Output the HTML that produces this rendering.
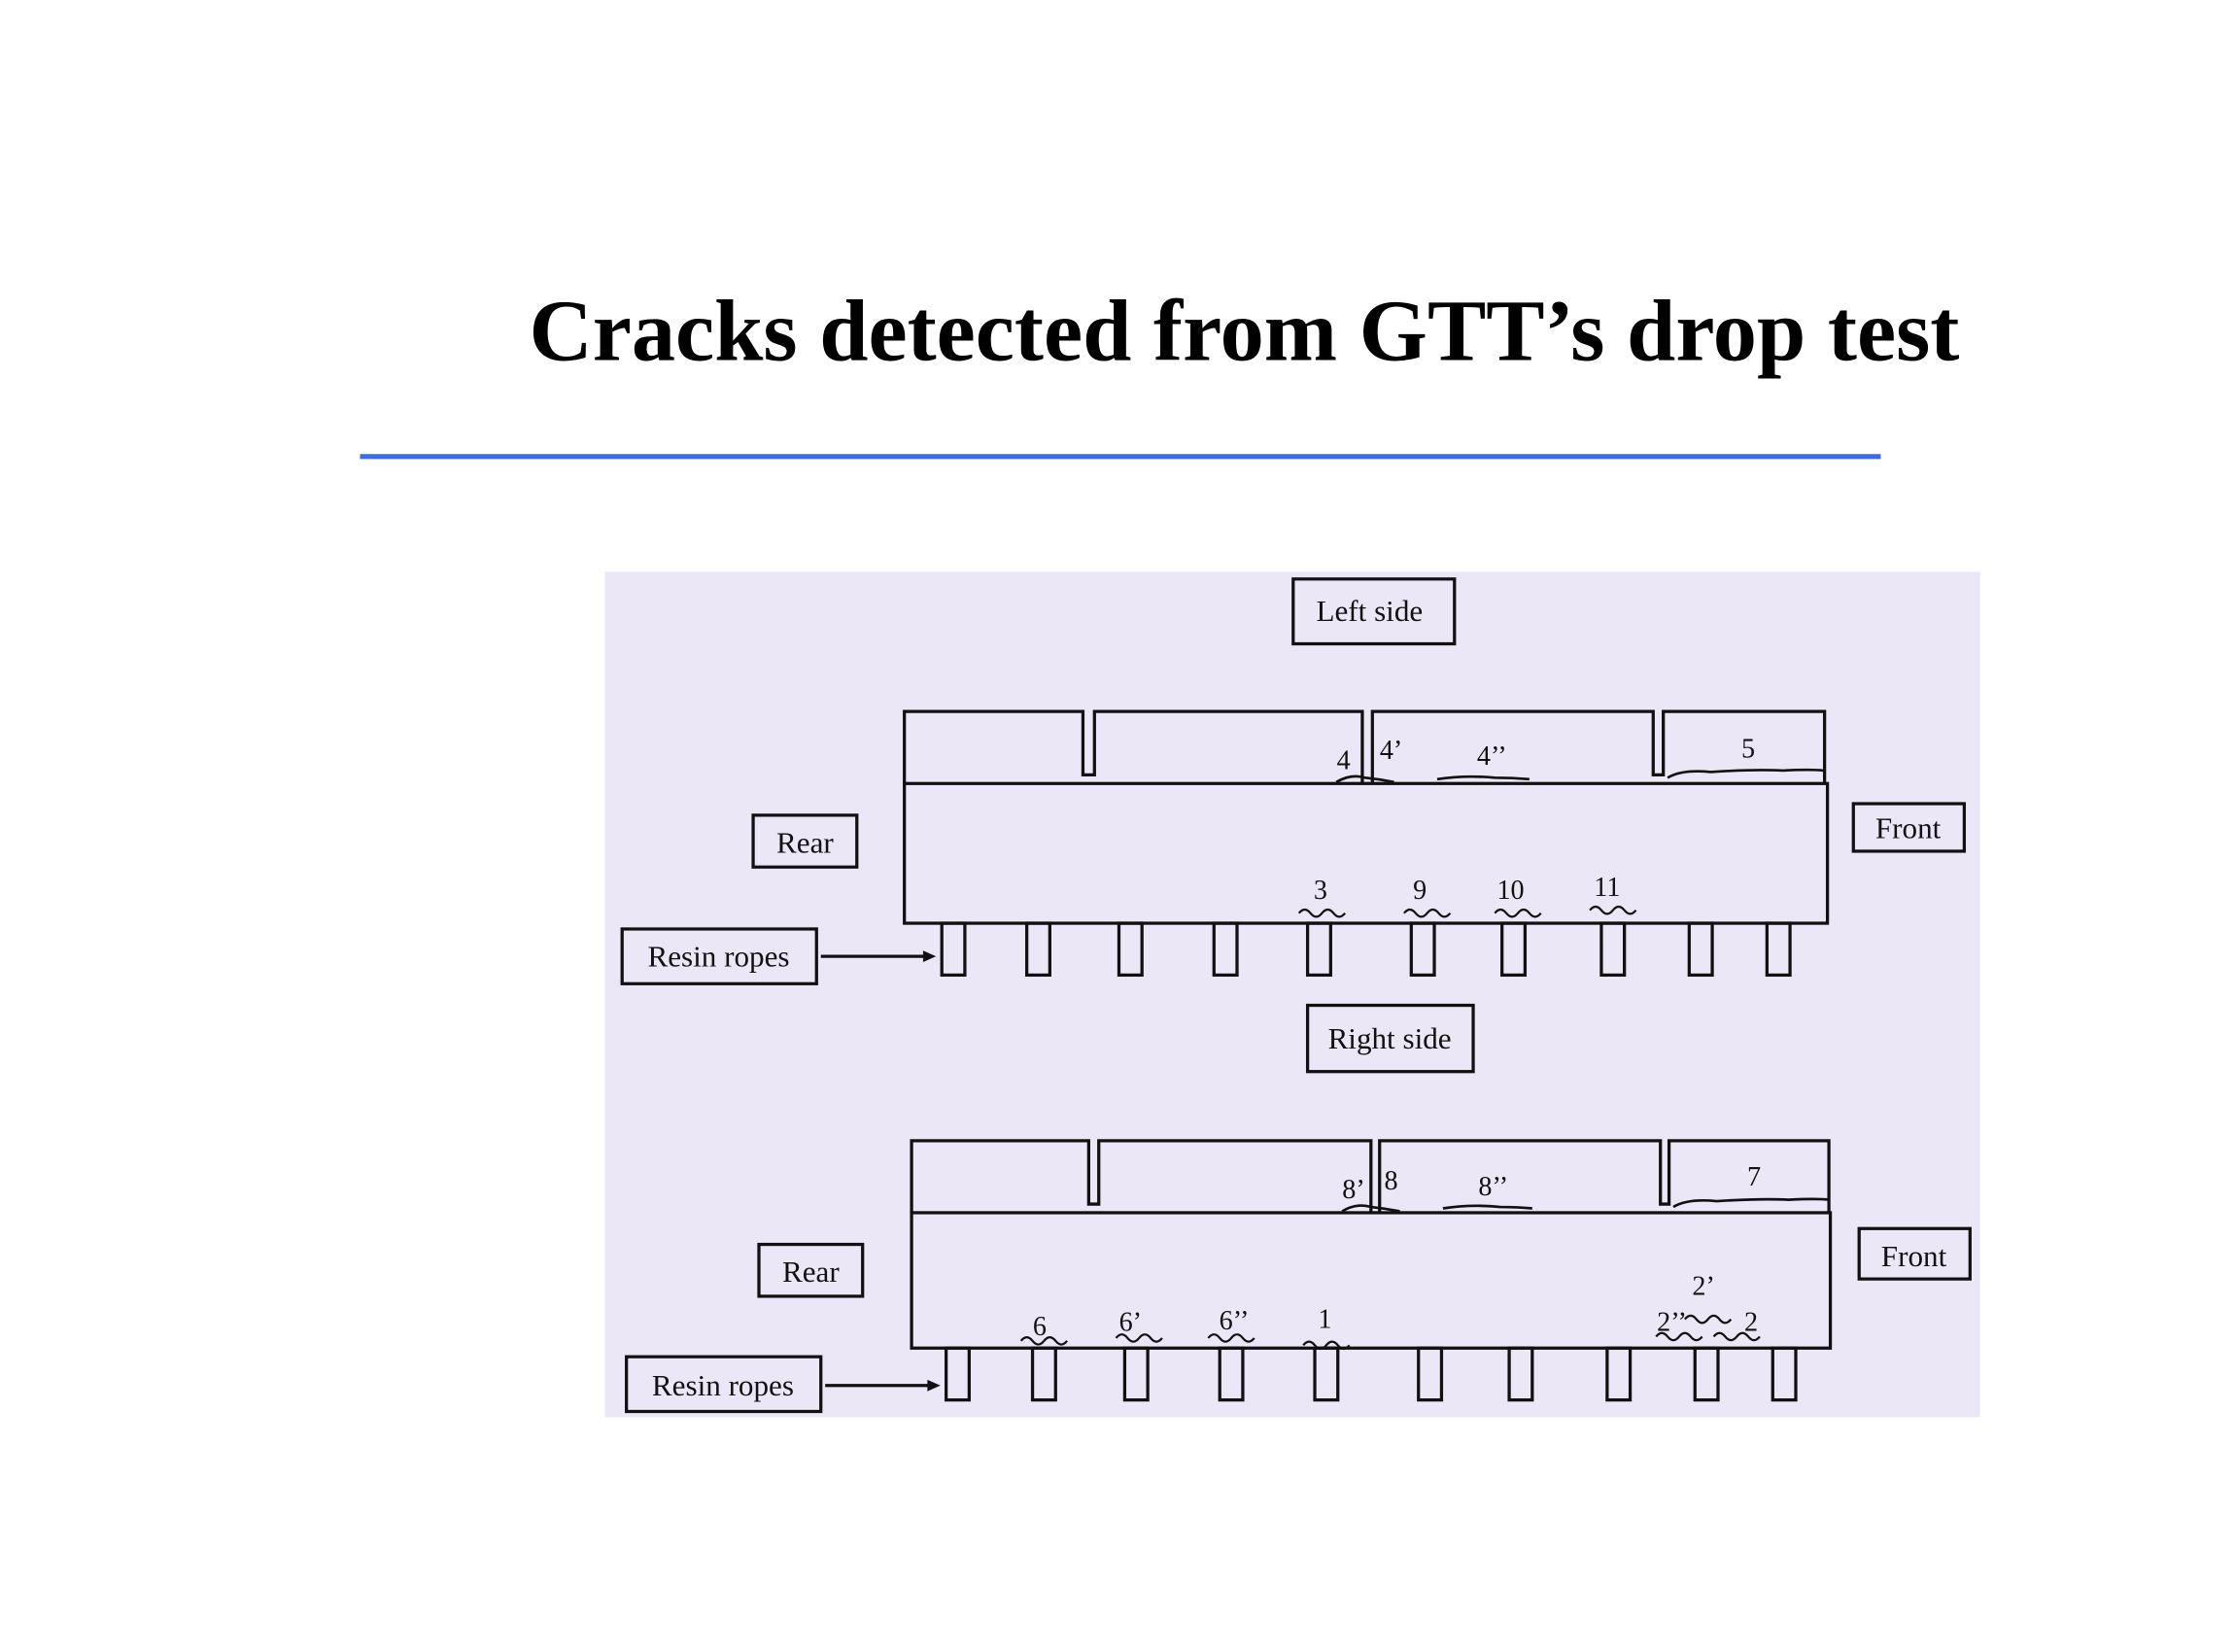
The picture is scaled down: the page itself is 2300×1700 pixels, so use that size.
<!DOCTYPE html>
<html><head><meta charset="utf-8"><style>html,body{margin:0;padding:0;background:#fff}svg{display:block}</style></head>
<body>
<svg width="2300" height="1700" viewBox="0 0 1552 1147" preserveAspectRatio="none" xmlns="http://www.w3.org/2000/svg" font-family="Liberation Serif, serif">
<rect width="1552" height="1147" fill="#fff"/>
<text x="864" y="250" text-anchor="middle" font-size="61" font-weight="bold" fill="#000">Cracks detected from GTT’s drop test</text>
<line x1="250" y1="317" x2="1306" y2="317" stroke="#3a6cf0" stroke-width="3.5"/>
<rect x="420" y="397" width="955" height="587" fill="#ebe7f7"/>
<g fill="none" stroke="#111" stroke-width="2.2">
<!-- top -->
<rect x="898" y="402" width="112" height="45"/>
<path d="M628 544 V494 H752 V538 H760 V494 H946 V544 M953 544 V494 H1148 V538 H1155 V494 H1267 V544"/>
<rect x="628" y="544" width="641" height="97"/>
<rect x="523" y="566" width="72" height="36"/>
<rect x="1287" y="558" width="77" height="33"/>
<rect x="432" y="645" width="135" height="38"/>
<line x1="570" y1="664" x2="642" y2="664"/>
<rect x="654" y="641" width="16" height="36"/><rect x="713" y="641" width="16" height="36"/><rect x="777" y="641" width="16" height="36"/><rect x="843" y="641" width="16" height="36"/><rect x="908" y="641" width="16" height="36"/><rect x="980" y="641" width="16" height="36"/><rect x="1043" y="641" width="16" height="36"/><rect x="1112" y="641" width="16" height="36"/><rect x="1173" y="641" width="16" height="36"/><rect x="1227" y="641" width="16" height="36"/>
<path d="M928 543 q10 -6 20 -3 q10 1 20 3 M998 541 q20 -3 40 -1 q12 0 24 1 M1158 540 q10 -6 30 -4 q30 -2 50 -1 q20 -1 28 0" stroke-width="1.8"/>
<path d="M902 634 q4 -5 8 0 q4 5 8 0 q4 -5 8 0 q4 5 8 0 M975 634 q4 -5 8 0 q4 5 8 0 q4 -5 8 0 q4 5 8 0 M1038 634 q4 -5 8 0 q4 5 8 0 q4 -5 8 0 q4 5 8 0 M1104 632 q4 -5 8 0 q4 5 8 0 q4 -5 8 0 q4 5 8 0" stroke-width="1.5"/>
<!-- bottom -->
<rect x="908" y="698" width="115" height="46"/>
<path d="M633 842 V792 H756 V836 H763 V792 H952 V842 M958 842 V792 H1153 V836 H1159 V792 H1270 V842"/>
<rect x="633" y="842" width="638" height="94"/>
<rect x="527" y="864" width="72" height="36"/>
<rect x="1291" y="853" width="77" height="35"/>
<rect x="435" y="942" width="135" height="38"/>
<line x1="573" y1="962" x2="645" y2="962"/>
<rect x="657" y="936" width="16" height="36"/><rect x="717" y="936" width="16" height="36"/><rect x="781" y="936" width="16" height="36"/><rect x="847" y="936" width="16" height="36"/><rect x="913" y="936" width="16" height="36"/><rect x="985" y="936" width="16" height="36"/><rect x="1048" y="936" width="16" height="36"/><rect x="1116" y="936" width="16" height="36"/><rect x="1177" y="936" width="16" height="36"/><rect x="1231" y="936" width="16" height="36"/>
<path d="M932 841 q10 -6 20 -3 q10 1 20 3 M1002 839 q20 -3 40 -1 q12 0 22 1 M1162 838 q10 -6 30 -4 q30 -2 50 -1 q20 -1 28 0" stroke-width="1.8"/>
<path d="M709 931 q4 -5 8 0 q4 5 8 0 q4 -5 8 0 q4 5 8 0 M775 929 q4 -5 8 0 q4 5 8 0 q4 -5 8 0 q4 5 8 0 M839 929 q4 -5 8 0 q4 5 8 0 q4 -5 8 0 q4 5 8 0 M905 934 q4 -5 8 0 q4 5 8 0 q4 -5 8 0 q4 5 8 0 M1150 928 q4 -5 8 0 q4 5 8 0 q4 -5 8 0 q4 5 8 0 M1170 916 q4 -5 8 0 q4 5 8 0 q4 -5 8 0 q4 5 8 0 M1190 928 q4 -5 8 0 q4 5 8 0 q4 -5 8 0 q4 5 8 0" stroke-width="1.5"/>
</g>
<path d="M650 664 l-9 -4 v8 z M653 962 l-9 -4 v8 z" fill="#111"/>
<g font-size="21" fill="#111" text-anchor="middle">
<text x="951" y="431">Left side</text>
<text x="559" y="592">Rear</text>
<text x="1325" y="582">Front</text>
<text x="499" y="671">Resin ropes</text>
<text x="965" y="728">Right side</text>
<text x="563" y="890">Rear</text>
<text x="1329" y="879">Front</text>
<text x="502" y="969">Resin ropes</text>
</g>
<g font-size="19" fill="#111" text-anchor="middle">
<text x="933" y="534">4</text><text x="966" y="527">4’</text><text x="1036" y="531">4’’</text><text x="1214" y="526">5</text>
<text x="917" y="624">3</text><text x="986" y="624">9</text><text x="1049" y="624">10</text><text x="1116" y="622">11</text>
<text x="940" y="832">8’</text><text x="966" y="826">8</text><text x="1037" y="830">8’’</text><text x="1218" y="823">7</text>
<text x="1183" y="899">2’</text>
<text x="722" y="927">6</text><text x="785" y="924">6’</text><text x="857" y="923">6’’</text><text x="920" y="922">1</text>
<text x="1161" y="924">2’’</text><text x="1216" y="924">2</text>
</g>
</svg>
</body></html>
